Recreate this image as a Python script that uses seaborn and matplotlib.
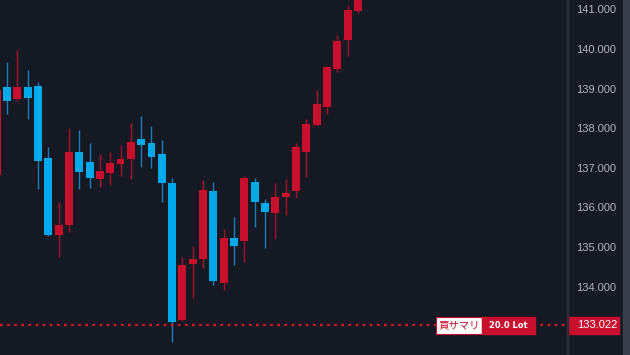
import matplotlib
matplotlib.use("Agg")
import matplotlib.pyplot as plt
import seaborn as sns
import pandas as pd
from matplotlib.patches import Rectangle
from matplotlib.transforms import blended_transform_factory

# ---- data ----
opens  = [136.82, 139.04, 138.74, 139.04, 139.07, 137.25, 135.31, 135.56, 137.40, 137.15,
          136.72, 136.87, 137.10, 137.22, 137.73, 137.63, 137.35, 136.62, 133.16, 134.57,
          134.70, 136.42, 134.09, 135.23, 135.15, 136.64, 136.11, 135.86, 136.26, 136.42,
          137.40, 138.08, 138.53, 139.49, 140.23, 140.96]
highs  = [139.10, 139.67, 139.97, 139.47, 139.17, 137.53, 136.14, 138.01, 137.95, 137.63,
          137.35, 137.40, 137.58, 138.13, 138.31, 138.06, 137.70, 136.74, 134.75, 135.03,
          136.69, 136.64, 135.46, 135.76, 136.79, 136.74, 136.21, 136.62, 136.72, 137.63,
          138.23, 138.96, 139.54, 140.35, 141.11, 141.50]
lows   = [136.70, 138.36, 138.69, 138.23, 136.47, 135.28, 134.75, 135.38, 136.47, 136.49,
          136.52, 136.57, 136.79, 136.72, 137.02, 137.00, 136.14, 132.61, 133.14, 133.72,
          134.47, 134.04, 133.92, 134.55, 134.62, 135.51, 134.98, 135.20, 135.81, 136.24,
          136.77, 138.08, 138.36, 139.42, 139.82, 140.90]
closes = [138.96, 138.69, 139.04, 138.76, 137.17, 135.31, 135.56, 137.40, 136.89, 136.74,
          136.92, 137.12, 137.22, 137.65, 137.58, 137.27, 136.62, 133.11, 134.55, 134.70,
          136.44, 134.14, 135.23, 135.03, 136.74, 136.14, 135.89, 136.26, 136.36, 137.53,
          138.11, 138.61, 139.54, 140.20, 140.98, 141.40]
price_ticks = [134, 135, 136, 137, 138, 139, 140, 141]
position_price = 133.022
position_side = "買サマリ"
position_lots = "20.0 Lot"

df = pd.DataFrame({"open": opens, "high": highs, "low": lows, "close": closes})
df["idx"] = range(len(df))
df["up"] = df["close"] >= df["open"]

BG = "#151924"
UP = "#c8102e"
DOWN = "#00a8ec"
UP_WICK = "#a3122d"
DOWN_WICK = "#1a7fb8"
TXT = "#b2b5be"

sns.set_theme(style="dark", rc={
    "axes.facecolor": BG, "figure.facecolor": BG,
    "axes.edgecolor": BG, "axes.grid": False,
})
plt.rcParams["font.family"] = ["Liberation Sans", "DejaVu Sans"]

W, H = 630, 355
fig = plt.figure(figsize=(W / 100, H / 100), dpi=100)
PLOT_R = 567
ax = fig.add_axes([0, 0, PLOT_R / W, 1])
ax.set_facecolor(BG)

colors = [UP if u else DOWN for u in df["up"]]
wick_colors = [UP_WICK if u else DOWN_WICK for u in df["up"]]

ax.vlines(df["idx"], df["low"], df["high"], colors=wick_colors, linewidth=1.0, zorder=2)
bottoms = df[["open", "close"]].min(axis=1)
heights = (df["close"] - df["open"]).abs()
ax.bar(df["idx"], heights, bottom=bottoms, width=0.77, color=colors,
       edgecolor="none", linewidth=0, zorder=3)

# axis scales so the layout matches
ax.set_xlim(0.322, 55.26)
ax.set_ylim(132.277, 141.235)

for s in ax.spines.values():
    s.set_visible(False)
ax.set_xticks([])
ax.yaxis.tick_right()
ax.set_yticks(price_ticks)
ax.set_yticklabels([f"{t:.3f}" for t in price_ticks])
ax.tick_params(axis="y", length=0, pad=6.5, labelsize=8, labelcolor=TXT)
for lab in ax.get_yticklabels():
    lab.set_horizontalalignment("left")

# position dotted line
ax.axhline(position_price, color="#d0152f", linewidth=1.6, linestyle=(0, (1.2, 2.0)),
           dash_capstyle="butt", zorder=4)

# separator & right strip
fig.add_artist(Rectangle((PLOT_R / W, 0), 1 / W, 1, transform=fig.transFigure,
                         color="#2a2e39", zorder=1))
fig.add_artist(Rectangle((623 / W, 0), 7 / W, 1, transform=fig.transFigure,
                         color="#3a3e4a", zorder=1))

tr = blended_transform_factory(ax.transAxes, ax.transData)
hh = 17 / 39.63
y0 = position_price - hh / 2

# price label
ax.add_patch(Rectangle((1.0, y0), (619 - 567) / PLOT_R, hh, transform=tr,
                       color=UP, clip_on=False, zorder=6))
ax.text(577 / PLOT_R, position_price, f"{position_price:.3f}", transform=tr,
        ha="left", va="center", color="white", fontsize=8, clip_on=False, zorder=7)

# position summary label
ax.add_patch(Rectangle((436 / PLOT_R, y0), 46 / PLOT_R, hh, transform=tr,
                       facecolor="white", edgecolor=UP, linewidth=0.8, zorder=6))
ax.add_patch(Rectangle((482 / PLOT_R, y0), 53 / PLOT_R, hh, transform=tr,
                       color=UP, zorder=6))
ax.text(459 / PLOT_R, position_price, position_side, transform=tr, ha="center",
        va="center", color=UP, fontsize=7.5, family=["Noto Sans CJK JP", "DejaVu Sans"],
        zorder=7)
ax.text(508.5 / PLOT_R, position_price, position_lots, transform=tr, ha="center",
        va="center", color="white", fontsize=6, fontweight="bold",
        family=["DejaVu Sans"], zorder=7)

fig.savefig("out.png", dpi=100, facecolor=BG)
